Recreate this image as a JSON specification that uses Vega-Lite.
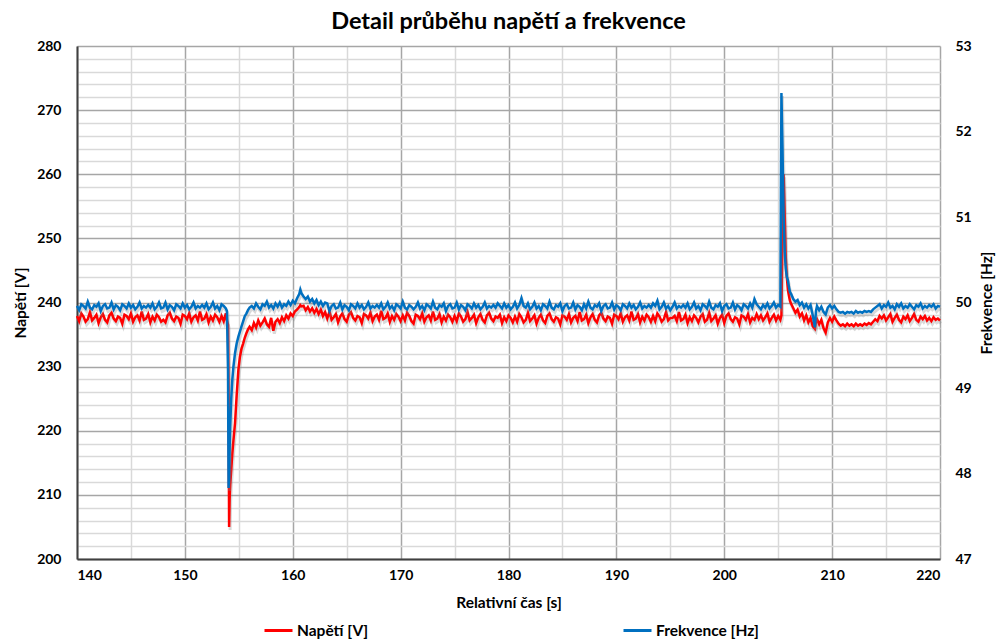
{
"$schema": "https://vega.github.io/schema/vega-lite/v6.json",
"width": 863, "height": 513,
"autosize": {"type": "none"},
"padding": {"left": 77, "top": 46, "right": 57, "bottom": 81},
"background": "white",
"title": {"text": "Detail průběhu napětí a frekvence", "font": "Lato", "fontSize": 23.5, "fontWeight": "bold", "color": "#000000", "anchor": "middle", "offset": 6},
"config": {
 "view": {"stroke": null},
 "axis": {"labelFont": "Lato", "labelFontSize": 14, "labelFontWeight": "bold", "labelColor": "#000000", "titleFont": "Lato", "titleFontSize": 15.5, "titleFontWeight": "bold", "titleColor": "#000000", "ticks": false},
 "legend": {"labelFont": "Lato", "labelFontSize": 15.5, "labelFontWeight": "bold", "labelColor": "#000000"}
},
"data": {"values": [
{"t":140.0,"v":237.9,"f":49.96},{"t":140.2,"v":237.1,"f":49.91},{"t":140.4,"v":238.3,"f":49.98},{"t":140.6,"v":237.8,"f":49.96},{"t":140.8,"v":237.0,"f":49.93},
{"t":141.0,"v":237.4,"f":50.01},{"t":141.2,"v":238.5,"f":49.94},{"t":141.4,"v":237.2,"f":49.92},{"t":141.6,"v":237.6,"f":49.97},{"t":141.8,"v":238.1,"f":49.95},
{"t":142.0,"v":236.8,"f":49.99},{"t":142.2,"v":237.7,"f":49.90},{"t":142.4,"v":238.2,"f":49.96},{"t":142.6,"v":237.3,"f":49.98},{"t":142.8,"v":236.9,"f":49.93},
{"t":143.0,"v":238.0,"f":49.94},{"t":143.2,"v":238.4,"f":50.00},{"t":143.4,"v":237.5,"f":49.92},{"t":143.6,"v":237.1,"f":49.97},{"t":143.8,"v":237.8,"f":49.95},
{"t":144.0,"v":237.6,"f":49.91},{"t":144.2,"v":236.7,"f":49.98},{"t":144.4,"v":238.1,"f":49.96},{"t":144.6,"v":237.9,"f":49.93},{"t":144.8,"v":237.4,"f":49.99},
{"t":145.0,"v":238.3,"f":49.94},{"t":145.2,"v":237.0,"f":49.97},{"t":145.4,"v":237.7,"f":49.92},{"t":145.6,"v":238.0,"f":49.95},{"t":145.8,"v":237.2,"f":50.00},
{"t":146.0,"v":238.6,"f":49.93},{"t":146.2,"v":237.3,"f":49.96},{"t":146.4,"v":237.5,"f":49.94},{"t":146.6,"v":238.2,"f":49.97},{"t":146.8,"v":236.9,"f":49.94},
{"t":147.0,"v":237.8,"f":49.99},{"t":147.2,"v":237.2,"f":49.92},{"t":147.4,"v":238.1,"f":49.95},{"t":147.6,"v":237.7,"f":50.00},{"t":147.8,"v":237.0,"f":49.93},
{"t":148.0,"v":237.3,"f":49.94},{"t":148.2,"v":236.9,"f":50.00},{"t":148.4,"v":238.0,"f":49.92},{"t":148.6,"v":238.4,"f":49.97},{"t":148.8,"v":237.5,"f":49.95},
{"t":149.0,"v":237.1,"f":49.91},{"t":149.2,"v":237.8,"f":49.98},{"t":149.4,"v":237.6,"f":49.96},{"t":149.6,"v":236.7,"f":49.93},{"t":149.8,"v":238.1,"f":49.99},
{"t":150.0,"v":237.9,"f":49.94},{"t":150.2,"v":237.4,"f":49.97},{"t":150.4,"v":238.3,"f":49.92},{"t":150.6,"v":237.0,"f":49.95},{"t":150.8,"v":237.7,"f":50.00},
{"t":151.0,"v":238.0,"f":49.93},{"t":151.2,"v":237.2,"f":49.96},{"t":151.4,"v":238.6,"f":49.94},{"t":151.6,"v":237.3,"f":49.97},{"t":151.8,"v":237.5,"f":49.94},
{"t":152.0,"v":238.2,"f":49.99},{"t":152.2,"v":236.9,"f":49.92},{"t":152.4,"v":237.8,"f":49.95},{"t":152.6,"v":237.2,"f":50.00},{"t":152.8,"v":238.1,"f":49.93},
{"t":153.0,"v":237.7,"f":49.96},{"t":153.2,"v":237.0,"f":49.91},{"t":153.4,"v":237.9,"f":49.98},{"t":153.6,"v":237.1,"f":49.96},{"t":153.8,"v":238.3,"f":49.93},
{"t":153.9,"v":237.2,"f":49.90},{"t":154.0,"v":236.5,"f":49.20},{"t":154.05,"v":225.0,"f":47.83},{"t":154.1,"v":205.0,"f":47.95},{"t":154.15,"v":209.5,"f":48.30},
{"t":154.2,"v":211.5,"f":48.55},{"t":154.3,"v":214.0,"f":48.88},{"t":154.4,"v":216.5,"f":49.10},{"t":154.5,"v":218.5,"f":49.25},{"t":154.65,"v":221.2,"f":49.41},
{"t":154.8,"v":225.5,"f":49.52},{"t":154.96,"v":229.5,"f":49.60},{"t":155.1,"v":231.5,"f":49.66},{"t":155.25,"v":232.8,"f":49.72},{"t":155.4,"v":233.6,"f":49.78},
{"t":155.55,"v":234.5,"f":49.84},{"t":155.7,"v":235.2,"f":49.87},{"t":155.85,"v":235.8,"f":49.91},{"t":156.0,"v":236.2,"f":49.94},{"t":156.2,"v":235.7,"f":49.96},
{"t":156.4,"v":236.8,"f":49.93},{"t":156.6,"v":236.1,"f":49.99},{"t":156.8,"v":237.2,"f":49.95},{"t":157.0,"v":236.4,"f":49.92},{"t":157.2,"v":236.9,"f":49.98},
{"t":157.4,"v":237.5,"f":49.96},{"t":157.6,"v":236.6,"f":50.01},{"t":157.8,"v":236.2,"f":49.94},{"t":158.0,"v":237.6,"f":49.97},{"t":158.2,"v":235.6,"f":49.93},
{"t":158.4,"v":237.0,"f":49.99},{"t":158.6,"v":237.4,"f":49.95},{"t":158.8,"v":236.8,"f":50.00},{"t":159.0,"v":237.7,"f":49.94},{"t":159.2,"v":237.1,"f":49.98},
{"t":159.4,"v":238.0,"f":49.96},{"t":159.6,"v":237.5,"f":50.01},{"t":159.8,"v":238.3,"f":49.97},{"t":160.0,"v":237.9,"f":50.02},{"t":160.2,"v":238.6,"f":49.99},
{"t":160.4,"v":238.9,"f":50.05},{"t":160.6,"v":239.3,"f":50.10},{"t":160.7,"v":239.6,"f":50.15},{"t":160.8,"v":239.4,"f":50.11},{"t":161.0,"v":239.5,"f":50.07},
{"t":161.2,"v":238.8,"f":50.04},{"t":161.4,"v":239.3,"f":50.07},{"t":161.6,"v":238.6,"f":50.01},{"t":161.8,"v":239.1,"f":50.04},{"t":162.0,"v":238.4,"f":49.99},
{"t":162.2,"v":239.0,"f":50.03},{"t":162.4,"v":238.2,"f":49.97},{"t":162.6,"v":238.9,"f":50.01},{"t":162.8,"v":237.9,"f":49.96},{"t":163.0,"v":238.5,"f":50.00},
{"t":163.2,"v":237.5,"f":49.99},{"t":163.4,"v":238.6,"f":49.90},{"t":163.6,"v":237.3,"f":49.96},{"t":163.8,"v":237.7,"f":49.98},{"t":164.0,"v":238.2,"f":49.93},
{"t":164.2,"v":236.9,"f":49.94},{"t":164.4,"v":237.8,"f":50.00},{"t":164.6,"v":238.3,"f":49.92},{"t":164.8,"v":237.4,"f":49.97},{"t":165.0,"v":237.0,"f":49.95},
{"t":165.2,"v":238.1,"f":49.91},{"t":165.4,"v":238.5,"f":49.98},{"t":165.6,"v":237.6,"f":49.96},{"t":165.8,"v":237.2,"f":49.93},{"t":166.0,"v":237.9,"f":49.99},
{"t":166.2,"v":237.7,"f":49.94},{"t":166.4,"v":236.8,"f":49.97},{"t":166.6,"v":238.2,"f":49.92},{"t":166.8,"v":238.0,"f":49.95},{"t":167.0,"v":237.5,"f":50.00},
{"t":167.2,"v":238.4,"f":49.93},{"t":167.4,"v":237.1,"f":49.96},{"t":167.6,"v":237.8,"f":49.94},{"t":167.8,"v":238.1,"f":49.97},{"t":168.0,"v":237.3,"f":49.94},
{"t":168.2,"v":238.7,"f":49.99},{"t":168.4,"v":237.4,"f":49.92},{"t":168.6,"v":237.6,"f":49.95},{"t":168.8,"v":238.3,"f":50.00},{"t":169.0,"v":237.0,"f":49.93},
{"t":169.2,"v":237.9,"f":49.96},{"t":169.4,"v":237.3,"f":49.91},{"t":169.6,"v":238.2,"f":49.98},{"t":169.8,"v":237.8,"f":49.96},{"t":170.0,"v":237.1,"f":49.93},
{"t":170.2,"v":238.0,"f":50.01},{"t":170.4,"v":237.2,"f":49.94},{"t":170.6,"v":238.4,"f":49.92},{"t":170.8,"v":237.9,"f":49.97},{"t":171.0,"v":237.1,"f":49.95},
{"t":171.2,"v":236.7,"f":49.92},{"t":171.4,"v":238.1,"f":49.95},{"t":171.6,"v":237.9,"f":50.00},{"t":171.8,"v":237.4,"f":49.93},{"t":172.0,"v":238.3,"f":49.96},
{"t":172.2,"v":237.0,"f":49.91},{"t":172.4,"v":237.7,"f":49.98},{"t":172.6,"v":238.0,"f":49.96},{"t":172.8,"v":237.2,"f":49.93},{"t":173.0,"v":238.6,"f":50.01},
{"t":173.2,"v":237.3,"f":49.94},{"t":173.4,"v":237.5,"f":49.92},{"t":173.6,"v":238.2,"f":49.97},{"t":173.8,"v":236.9,"f":49.95},{"t":174.0,"v":237.8,"f":49.99},
{"t":174.2,"v":237.2,"f":49.90},{"t":174.4,"v":238.1,"f":49.96},{"t":174.6,"v":237.7,"f":49.98},{"t":174.8,"v":237.0,"f":49.93},{"t":175.0,"v":237.9,"f":49.94},
{"t":175.2,"v":237.1,"f":50.00},{"t":175.4,"v":238.3,"f":49.92},{"t":175.6,"v":237.8,"f":49.97},{"t":175.8,"v":237.0,"f":49.95},{"t":176.0,"v":237.4,"f":49.91},
{"t":176.2,"v":238.5,"f":49.98},{"t":176.4,"v":237.2,"f":49.96},{"t":176.6,"v":237.6,"f":49.93},{"t":176.8,"v":238.1,"f":49.99},{"t":177.0,"v":236.8,"f":49.94},
{"t":177.2,"v":237.7,"f":49.97},{"t":177.4,"v":238.2,"f":49.92},{"t":177.6,"v":237.3,"f":49.95},{"t":177.8,"v":236.9,"f":50.00},{"t":178.0,"v":238.0,"f":49.93},
{"t":178.2,"v":238.4,"f":49.96},{"t":178.4,"v":237.5,"f":49.94},{"t":178.6,"v":237.1,"f":49.97},{"t":178.8,"v":237.8,"f":49.94},{"t":179.0,"v":237.6,"f":49.99},
{"t":179.2,"v":238.1,"f":49.96},{"t":179.4,"v":236.8,"f":49.93},{"t":179.6,"v":237.7,"f":49.99},{"t":179.8,"v":237.1,"f":49.94},{"t":180.0,"v":238.0,"f":49.97},
{"t":180.2,"v":237.6,"f":49.92},{"t":180.4,"v":236.9,"f":49.95},{"t":180.6,"v":237.8,"f":50.00},{"t":180.8,"v":237.0,"f":49.93},{"t":181.0,"v":238.2,"f":49.97},
{"t":181.2,"v":237.7,"f":50.05},{"t":181.4,"v":236.9,"f":49.96},{"t":181.6,"v":237.3,"f":49.94},{"t":181.8,"v":238.4,"f":49.99},{"t":182.0,"v":237.1,"f":49.92},
{"t":182.2,"v":237.5,"f":49.95},{"t":182.4,"v":238.0,"f":50.00},{"t":182.6,"v":236.7,"f":49.93},{"t":182.8,"v":237.6,"f":49.96},{"t":183.0,"v":238.1,"f":49.91},
{"t":183.2,"v":237.2,"f":49.98},{"t":183.4,"v":236.8,"f":49.96},{"t":183.6,"v":237.9,"f":49.93},{"t":183.8,"v":238.3,"f":50.01},{"t":184.0,"v":237.4,"f":49.94},
{"t":184.2,"v":237.0,"f":49.92},{"t":184.4,"v":237.7,"f":49.97},{"t":184.6,"v":237.5,"f":49.95},{"t":184.8,"v":236.6,"f":49.99},{"t":185.0,"v":238.0,"f":49.90},
{"t":185.2,"v":237.8,"f":49.96},{"t":185.4,"v":237.3,"f":49.98},{"t":185.6,"v":238.2,"f":49.93},{"t":185.8,"v":236.9,"f":49.94},{"t":186.0,"v":237.6,"f":50.00},
{"t":186.2,"v":237.9,"f":49.92},{"t":186.4,"v":237.1,"f":49.97},{"t":186.6,"v":238.5,"f":49.95},{"t":186.8,"v":237.2,"f":49.91},{"t":187.0,"v":237.4,"f":49.98},
{"t":187.2,"v":238.1,"f":49.93},{"t":187.4,"v":236.8,"f":50.01},{"t":187.6,"v":237.7,"f":49.94},{"t":187.8,"v":238.2,"f":49.92},{"t":188.0,"v":237.3,"f":49.97},
{"t":188.2,"v":236.9,"f":49.95},{"t":188.4,"v":238.0,"f":49.99},{"t":188.6,"v":238.4,"f":49.90},{"t":188.8,"v":237.5,"f":49.96},{"t":189.0,"v":237.1,"f":49.98},
{"t":189.2,"v":237.8,"f":49.93},{"t":189.4,"v":237.6,"f":49.94},{"t":189.6,"v":236.7,"f":50.00},{"t":189.8,"v":238.1,"f":49.92},{"t":190.0,"v":237.9,"f":49.97},
{"t":190.2,"v":237.4,"f":49.95},{"t":190.4,"v":238.3,"f":49.91},{"t":190.6,"v":237.0,"f":49.98},{"t":190.8,"v":237.7,"f":49.96},{"t":191.0,"v":238.0,"f":49.93},
{"t":191.2,"v":237.2,"f":49.99},{"t":191.4,"v":238.6,"f":49.94},{"t":191.6,"v":237.3,"f":49.97},{"t":191.8,"v":237.5,"f":49.92},{"t":192.0,"v":238.2,"f":49.95},
{"t":192.2,"v":236.9,"f":50.00},{"t":192.4,"v":237.8,"f":49.93},{"t":192.6,"v":237.2,"f":49.96},{"t":192.8,"v":238.1,"f":49.94},{"t":193.0,"v":237.7,"f":49.97},
{"t":193.2,"v":237.0,"f":49.94},{"t":193.4,"v":237.9,"f":49.99},{"t":193.6,"v":237.1,"f":49.96},{"t":193.8,"v":238.3,"f":50.02},{"t":194.0,"v":237.8,"f":49.92},
{"t":194.2,"v":237.0,"f":49.95},{"t":194.4,"v":237.4,"f":50.00},{"t":194.6,"v":238.5,"f":49.93},{"t":194.8,"v":237.2,"f":49.96},{"t":195.0,"v":237.6,"f":49.91},
{"t":195.2,"v":237.6,"f":49.95},{"t":195.4,"v":237.9,"f":50.00},{"t":195.6,"v":237.1,"f":49.93},{"t":195.8,"v":238.5,"f":49.96},{"t":196.0,"v":237.2,"f":49.94},
{"t":196.2,"v":237.4,"f":49.97},{"t":196.4,"v":238.1,"f":49.94},{"t":196.6,"v":236.8,"f":49.99},{"t":196.8,"v":237.7,"f":49.92},{"t":197.0,"v":237.1,"f":49.95},
{"t":197.2,"v":238.0,"f":50.00},{"t":197.4,"v":237.6,"f":49.93},{"t":197.6,"v":236.9,"f":49.96},{"t":197.8,"v":237.8,"f":49.91},{"t":198.0,"v":238.2,"f":49.98},
{"t":198.2,"v":237.0,"f":49.96},{"t":198.4,"v":237.3,"f":49.93},{"t":198.6,"v":238.4,"f":50.01},{"t":198.8,"v":237.1,"f":49.94},{"t":199.0,"v":237.5,"f":49.92},
{"t":199.2,"v":238.0,"f":49.97},{"t":199.4,"v":236.7,"f":49.95},{"t":199.6,"v":237.6,"f":49.99},{"t":199.8,"v":238.1,"f":49.90},{"t":200.0,"v":236.8,"f":49.96},
{"t":200.2,"v":237.9,"f":49.98},{"t":200.4,"v":238.3,"f":49.93},{"t":200.6,"v":237.4,"f":49.94},{"t":200.8,"v":237.0,"f":50.00},{"t":201.0,"v":237.7,"f":49.92},
{"t":201.2,"v":237.5,"f":49.97},{"t":201.4,"v":236.6,"f":49.95},{"t":201.6,"v":238.0,"f":49.91},{"t":201.8,"v":237.8,"f":49.98},{"t":202.0,"v":237.3,"f":49.96},
{"t":202.2,"v":238.2,"f":49.93},{"t":202.4,"v":236.9,"f":49.99},{"t":202.6,"v":237.6,"f":49.94},{"t":202.8,"v":237.3,"f":50.04},{"t":203.0,"v":238.2,"f":49.98},
{"t":203.2,"v":237.4,"f":49.95},{"t":203.4,"v":238.0,"f":49.92},{"t":203.6,"v":237.2,"f":49.97},{"t":203.8,"v":237.7,"f":49.94},{"t":204.0,"v":238.3,"f":49.99},
{"t":204.2,"v":237.0,"f":49.93},{"t":204.4,"v":237.6,"f":49.96},{"t":204.6,"v":238.1,"f":50.00},{"t":204.8,"v":237.2,"f":49.94},{"t":205.0,"v":237.9,"f":49.97},
{"t":205.2,"v":237.3,"f":49.95},{"t":205.3,"v":238.0,"f":52.45},{"t":205.4,"v":252.0,"f":51.80},{"t":205.5,"v":260.0,"f":51.00},{"t":205.6,"v":254.0,"f":50.60},
{"t":205.7,"v":247.0,"f":50.40},{"t":205.8,"v":244.0,"f":50.30},{"t":205.9,"v":242.0,"f":50.26},{"t":206.0,"v":241.0,"f":50.18},{"t":206.1,"v":240.2,"f":50.12},
{"t":206.2,"v":239.8,"f":50.10},{"t":206.4,"v":239.1,"f":50.04},{"t":206.6,"v":238.4,"f":50.01},{"t":206.8,"v":238.9,"f":50.03},{"t":207.0,"v":237.8,"f":49.97},
{"t":207.2,"v":238.3,"f":50.00},{"t":207.4,"v":237.2,"f":49.94},{"t":207.6,"v":238.0,"f":49.98},{"t":207.8,"v":236.9,"f":49.93},{"t":208.0,"v":237.6,"f":49.97},
{"t":208.2,"v":236.3,"f":49.85},{"t":208.4,"v":235.9,"f":49.71},{"t":208.5,"v":237.0,"f":49.90},{"t":208.6,"v":237.4,"f":49.96},{"t":208.8,"v":236.6,"f":49.91},
{"t":209.0,"v":237.3,"f":49.95},{"t":209.2,"v":236.0,"f":49.89},{"t":209.4,"v":235.3,"f":49.86},{"t":209.6,"v":236.9,"f":49.94},{"t":209.8,"v":237.6,"f":49.97},
{"t":210.0,"v":237.0,"f":49.93},{"t":210.2,"v":237.8,"f":49.96},{"t":210.4,"v":237.2,"f":49.92},{"t":210.6,"v":236.7,"f":49.89},{"t":210.8,"v":236.4,"f":49.88},
{"t":211.0,"v":236.6,"f":49.89},{"t":211.2,"v":236.3,"f":49.87},{"t":211.4,"v":236.7,"f":49.89},{"t":211.6,"v":236.4,"f":49.88},{"t":211.8,"v":236.6,"f":49.89},
{"t":212.0,"v":236.3,"f":49.87},{"t":212.2,"v":236.7,"f":49.90},{"t":212.4,"v":236.4,"f":49.88},{"t":212.6,"v":236.6,"f":49.89},{"t":212.8,"v":236.4,"f":49.88},
{"t":213.0,"v":236.7,"f":49.90},{"t":213.2,"v":236.5,"f":49.89},{"t":213.4,"v":236.8,"f":49.90},{"t":213.6,"v":236.6,"f":49.89},{"t":213.8,"v":237.0,"f":49.92},
{"t":214.0,"v":237.4,"f":49.94},{"t":214.2,"v":237.1,"f":49.96},{"t":214.4,"v":237.9,"f":49.98},{"t":214.6,"v":237.5,"f":49.93},{"t":214.8,"v":238.0,"f":49.97},
{"t":215.0,"v":237.2,"f":49.95},{"t":215.2,"v":237.7,"f":50.00},{"t":215.4,"v":238.2,"f":49.94},{"t":215.6,"v":237.0,"f":49.96},{"t":215.8,"v":237.6,"f":49.92},
{"t":216.0,"v":238.1,"f":49.98},{"t":216.2,"v":237.3,"f":49.95},{"t":216.4,"v":236.9,"f":49.99},{"t":216.6,"v":237.8,"f":49.93},{"t":216.8,"v":237.4,"f":49.96},
{"t":217.0,"v":238.0,"f":49.94},{"t":217.2,"v":237.1,"f":49.98},{"t":217.4,"v":237.6,"f":49.95},{"t":217.6,"v":238.2,"f":49.92},{"t":217.8,"v":237.3,"f":49.97},
{"t":218.0,"v":237.0,"f":49.95},{"t":218.2,"v":237.8,"f":49.99},{"t":218.4,"v":237.4,"f":49.93},{"t":218.6,"v":237.9,"f":49.96},{"t":218.8,"v":237.2,"f":49.94},
{"t":219.0,"v":237.6,"f":49.97},{"t":219.2,"v":237.1,"f":49.95},{"t":219.4,"v":237.7,"f":49.98},{"t":219.6,"v":237.3,"f":49.93},{"t":219.8,"v":237.5,"f":49.96},
{"t":220.0,"v":237.2,"f":49.95}
]},
"encoding": {
 "x": {"field": "t", "type": "quantitative", "scale": {"domain": [140, 220], "nice": false, "zero": false},
  "axis": {"title": "Relativní čas [s]", "values": [140,145,150,155,160,165,170,175,180,185,190,195,200,205,210,215,220],
   "labelExpr": "datum.value % 10 === 0 ? datum.label : ''",
   "grid": true, "gridColor": {"condition": {"test": "datum.value % 10 === 0", "value": "#a6a6a6"}, "value": "#d9d9d9"}, "gridWidth": 1.5,
   "domainColor": "#404040", "domainWidth": 2, "labelPadding": 9, "titlePadding": 13}}
},
"layer": [
 {
  "encoding": {"y": {"field": "v", "type": "quantitative", "scale": {"domain": [200, 280], "nice": false, "zero": false},
   "axis": {"title": "Napětí [V]", "orient": "left",
    "values": [200,202,204,206,208,210,212,214,216,218,220,222,224,226,228,230,232,234,236,238,240,242,244,246,248,250,252,254,256,258,260,262,264,266,268,270,272,274,276,278,280],
    "labelExpr": "datum.value % 10 === 0 ? datum.label : ''",
    "grid": true, "gridColor": {"condition": {"test": "datum.value % 10 === 0", "value": "#a6a6a6"}, "value": "#d9d9d9"}, "gridWidth": 1.5,
    "domainColor": "#404040", "domainWidth": 2, "labelPadding": 16, "titlePadding": 8}}},
  "layer": [
   {"mark": {"type": "line", "color": "#808080", "opacity": 0.3, "strokeWidth": 3, "yOffset": 3, "xOffset": 1}},
   {"mark": {"type": "line", "strokeWidth": 2.5},
    "encoding": {"color": {"datum": "Napětí [V]", "type": "nominal",
     "scale": {"domain": ["Napětí [V]", "Frekvence [Hz]"], "range": ["#ff0000", "#0070c0"]},
     "legend": {"title": null, "orient": "none", "legendX": 186, "legendY": 569, "direction": "horizontal",
      "symbolType": "stroke", "symbolSize": 784, "symbolStrokeWidth": 3, "columnPadding": 248, "labelOffset": 3}}}}
  ]
 },
 {
  "encoding": {"y": {"field": "f", "type": "quantitative", "scale": {"domain": [47, 53], "nice": false, "zero": false},
   "axis": {"title": "Frekvence [Hz]", "orient": "right", "values": [47,48,49,50,51,52,53], "grid": false, "domain": false,
    "labelPadding": 15, "titlePadding": 8, "titleAngle": 270, "titleBaseline": "top"}}},
  "layer": [
   {"mark": {"type": "line", "color": "#808080", "opacity": 0.3, "strokeWidth": 3, "yOffset": 3, "xOffset": 1}},
   {"mark": {"type": "line", "strokeWidth": 2.5},
    "encoding": {"color": {"datum": "Frekvence [Hz]", "type": "nominal"}}}
  ]
 }
],
"resolve": {"scale": {"y": "independent"}}
}
